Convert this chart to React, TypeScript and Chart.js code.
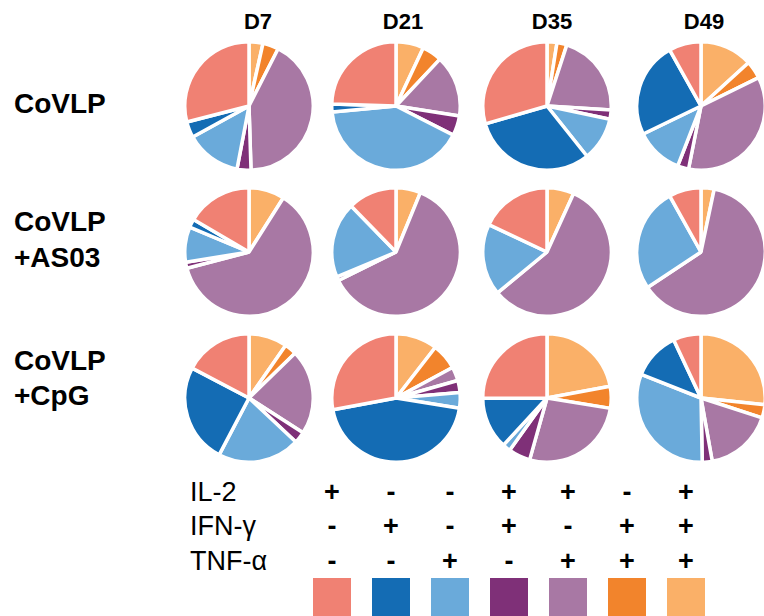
import React, { useEffect, useRef } from "react";
import { Chart, registerables } from "chart.js";

Chart.register(...registerables);

// Time points (columns) and vaccine groups (rows)
const days = ["D7", "D21", "D35", "D49"];
const groupLabels = [["CoVLP"], ["CoVLP", "+AS03"], ["CoVLP", "+CpG"]];

// Cytokine subsets, in legend order:
// IL-2 only, IFN-γ only, TNF-α only, IL-2+IFN-γ, IL-2+TNF-α, IFN-γ+TNF-α, IL-2+IFN-γ+TNF-α
const subsetColors = ["#F08173", "#146CB4", "#6AAADA", "#7F3078", "#A878A4", "#F2842C", "#FAB068"];
const il2Signs = ["+", "-", "-", "+", "+", "-", "+"];
const ifnSigns = ["-", "+", "-", "+", "-", "+", "+"];
const tnfSigns = ["-", "-", "+", "-", "+", "+", "+"];
const markerNames = ["IL-2", "IFN-γ", "TNF-α"];

// Percent of responding CD4+ T cells per subset (legend order), one array per day
const covlpValues = [
  [29, 4, 14, 3.5, 42, 4, 3.5],
  [24.5, 2, 41, 5, 15.5, 5, 7],
  [29.5, 31.2, 11, 2.3, 21, 2.5, 2.5],
  [8.1, 24, 11.9, 2.8, 35.3, 4.5, 13.2],
];
const as03Values = [
  [16.6, 2.1, 8.9, 1.5, 62, 0, 9],
  [12.3, 0, 19, 1, 61.5, 0, 6.2],
  [18, 0, 18, 0, 57.2, 0, 6.8],
  [8.1, 0, 26.2, 0, 62.3, 0, 3.3],
];
const cpgValues = [
  [17.3, 25, 20.7, 2.9, 21.4, 3, 9.7],
  [27.9, 44.5, 3.9, 3, 3.5, 6.6, 10.5],
  [25, 13, 2, 5.5, 26.7, 5.5, 22],
  [7, 12, 31.3, 2.5, 17.2, 3.3, 26.7],
];
const groupValues = [covlpValues, as03Values, cpgValues];

const FONT = "'Liberation Sans', Arial, Helvetica, sans-serif";
const colX = [249, 396, 547, 701];
const rowY = [106, 252, 398];
const headerX = [258, 403, 552, 704];
const PIE_BOX = 132;

function Pie({ values, cx, cy }: { values: number[]; cx: number; cy: number }) {
  const ref = useRef<HTMLCanvasElement | null>(null);
  useEffect(() => {
    if (!ref.current) return;
    // slices run clockwise from 12 o'clock, starting with the triple-positive subset
    const data = values.slice().reverse();
    const colors = subsetColors.slice().reverse();
    const chart = new Chart(ref.current, {
      type: "pie",
      data: {
        labels: colors.map((_, i) => String(i)),
        datasets: [
          {
            data,
            backgroundColor: colors,
            borderColor: "#ffffff",
            borderWidth: 3.5,
          },
        ],
      },
      options: {
        responsive: false,
        animation: false,
        devicePixelRatio: 1,
        events: [],
        layout: { padding: 0 },
        plugins: { legend: { display: false }, tooltip: { enabled: false } },
      },
    });
    return () => chart.destroy();
  }, [values]);
  return (
    <canvas
      ref={ref}
      width={PIE_BOX}
      height={PIE_BOX}
      style={{ position: "absolute", left: cx - PIE_BOX / 2, top: cy - PIE_BOX / 2, width: PIE_BOX, height: PIE_BOX }}
    />
  );
}

function Txt({
  x,
  y,
  size,
  bold,
  align,
  children,
}: {
  x: number;
  y: number;
  size: number;
  bold?: boolean;
  align?: "left" | "center";
  children: React.ReactNode;
}) {
  const centered = align === "center";
  return (
    <div
      style={{
        position: "absolute",
        left: centered ? x - 100 : x,
        width: centered ? 200 : undefined,
        top: y - size / 2,
        lineHeight: `${size}px`,
        fontSize: size,
        fontFamily: FONT,
        fontWeight: bold ? 700 : 400,
        textAlign: centered ? "center" : "left",
        whiteSpace: "nowrap",
        color: "#000",
      }}
    >
      {children}
    </div>
  );
}

const labelLineY = [[104], [222, 258], [361, 396]];
const signRowY = [492, 526, 561];
const signCols = [332, 391, 450, 509, 568, 627, 686];

export default function App() {
  const signRows = [il2Signs, ifnSigns, tnfSigns];
  return (
    <div
      style={{
        position: "absolute",
        left: 0,
        top: 0,
        width: 764,
        height: 616,
        overflow: "hidden",
        background: "#fff",
      }}
    >
      {days.map((d, i) => (
        <Txt key={d} x={headerX[i]} y={22} size={22} bold align="center">
          {d}
        </Txt>
      ))}
      {groupLabels.map((lines, r) =>
        lines.map((line, k) => (
          <Txt key={`${r}-${k}`} x={14} y={labelLineY[r][k]} size={28} bold>
            {line}
          </Txt>
        ))
      )}
      {groupValues.map((row, r) =>
        row.map((vals, c) => <Pie key={`${r}-${c}`} values={vals} cx={colX[c]} cy={rowY[r]} />)
      )}
      {markerNames.map((m, i) => (
        <Txt key={m} x={190} y={signRowY[i]} size={27}>
          {m}
        </Txt>
      ))}
      {signRows.map((row, i) =>
        row.map((s, j) => (
          <Txt key={`${i}-${j}`} x={signCols[j]} y={signRowY[i]} size={27} bold align="center">
            {s}
          </Txt>
        ))
      )}
      {subsetColors.map((col, j) => (
        <div
          key={col}
          style={{
            position: "absolute",
            left: signCols[j] - 19,
            top: 578,
            width: 38,
            height: 40,
            background: col,
          }}
        />
      ))}
    </div>
  );
}
